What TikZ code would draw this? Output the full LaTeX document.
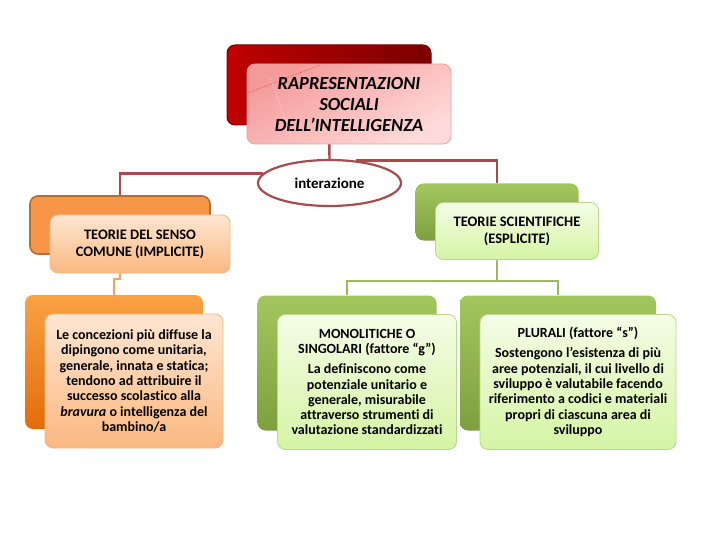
\documentclass[tikz,border=0pt]{standalone}
\usepackage{fontspec}
\setmainfont{Carlito}[Ligatures=NoCommon]
\usetikzlibrary{positioning, shapes.geometric}

\definecolor{topdark}{HTML}{C00000}
\definecolor{topdeep}{HTML}{7A0000}
\definecolor{pinktop}{HTML}{F49A9A}
\definecolor{pinkbot}{HTML}{FFDADA}
\definecolor{pinkline}{HTML}{E9A3A3}
\definecolor{linkred}{HTML}{A64C4E}
\definecolor{orangeback}{HTML}{F79646}
\definecolor{orangeedge}{HTML}{B66D31}
\definecolor{orangetop}{HTML}{F9A244}
\definecolor{orangebot}{HTML}{E36C0A}
\definecolor{peachtop}{HTML}{FEE6D2}
\definecolor{peachbot}{HTML}{FAB880}
\definecolor{peachline}{HTML}{F2B788}
\definecolor{linkorange}{HTML}{F3A35C}
\definecolor{greentop}{HTML}{A4C65E}
\definecolor{greenbot}{HTML}{7E9F3F}
\definecolor{limetop}{HTML}{F4FDE6}
\definecolor{limebot}{HTML}{D5F4A4}
\definecolor{limeline}{HTML}{B7D98C}
\definecolor{linkgreen}{HTML}{9BBB59}

\begin{document}
\begin{tikzpicture}[
    x=1pt, y=-1pt,
    back/.style={rectangle, rounded corners=8pt, inner sep=0pt, line width=1pt},
    front/.style={rectangle, draw, rounded corners=8pt, line width=0.8pt, align=center, inner sep=1pt},
    titlefont/.style={font=\fontsize{18.5}{21}\selectfont\bfseries\itshape},
    headfont/.style={font=\fontsize{14.5}{17}\selectfont\bfseries},
    bodyfont/.style={font=\fontsize{14}{15.3}\selectfont\bfseries},
    link/.style={line width=2.4pt}
]
\fill[white] (0,0) rectangle (720,540);
\useasboundingbox (0,0) rectangle (720,540);

% ============ BACK BOXES ============
\node[back, left color=topdark, right color=topdeep, draw=topdeep, minimum width=204pt, minimum height=80pt] (topback) at (329,85) {};
\node[back, fill=orangeback, draw=orangeedge, line width=1.6pt, minimum width=180pt, minimum height=58pt] (sensoback) at (120,225) {};
\node[back, top color=greentop, bottom color=greenbot, minimum width=163pt, minimum height=57pt] (scientback) at (497,212) {};
\node[back, top color=orangetop, bottom color=orangebot, minimum width=178pt, minimum height=134pt] (concezback) at (114,362) {};
\node[back, top color=greentop, bottom color=greenbot, minimum width=179pt, minimum height=135pt] (monoback) at (347,363) {};
\node[back, top color=greentop, bottom color=greenbot, minimum width=196pt, minimum height=135pt] (plurback) at (558,363) {};

% ============ CONNECTIONS ============
\node[ellipse, draw=linkred, line width=2.2pt, fill=white, minimum width=143pt, minimum height=46pt, inner sep=0pt, font=\fontsize{15}{17}\selectfont\bfseries] (inter) at (329.5,183) {interazione};
\draw[link, linkred] (topback.south) -- (inter.north);
\draw[link, linkred] (inter.172) -| (sensoback.north);
\draw[link, linkred] (inter.40) -| (scientback.north);

\draw[link, linkorange, line width=2pt] (sensoback.south) -- ++(0,24) -| (concezback.north);

\draw[link, linkgreen] (scientback.south) -- ++(0,40) -| (monoback.north);
\draw[link, linkgreen] (scientback.south) -- ++(0,40) -| (plurback.north);

% ============ FRONT BOXES ============
\node[front, titlefont, top color=pinktop, bottom color=pinkbot, shading angle=30, draw=pinkline, minimum width=204pt, minimum height=80pt] (topfront) at ([shift={(20,19)}]topback.center) {
    RAPRESENTAZIONI\\
    SOCIALI\\
    DELL’INTELLIGENZA
};
\draw[densely dotted, topdark, thin] (248,93) -- (320,65);
\draw[densely dotted, white, thin] (270,78) -- (292,137);

\node[front, headfont, top color=peachtop, bottom color=peachbot, draw=peachline, minimum width=180pt, minimum height=58pt] (sensofront) at ([shift={(20,19)}]sensoback.center) {
    TEORIE DEL SENSO\\
    COMUNE (IMPLICITE)
};

\node[front, headfont, top color=limetop, bottom color=limebot, draw=limeline, minimum width=163pt, minimum height=57pt] (scientfront) at ([shift={(20,19)}]scientback.center) {
    TEORIE SCIENTIFICHE\\
    (ESPLICITE)
};

\node[front, bodyfont, top color=peachtop, bottom color=peachbot, draw=peachline, minimum width=178pt, minimum height=134pt] (concezfront) at ([shift={(20,19)}]concezback.center) {
    Le concezioni più diffuse la\\
    dipingono come unitaria,\\
    generale, innata e statica;\\
    tendono ad attribuire il\\
    successo scolastico alla\\
    \textit{bravura} o intelligenza del\\
    bambino/a
};

\node[front, bodyfont, top color=limetop, bottom color=limebot, draw=limeline, minimum width=179pt, minimum height=135pt] (monofront) at ([shift={(20,19)}]monoback.center) {
    MONOLITICHE O\\
    SINGOLARI (fattore “g”)\\[5pt]
    La definiscono come\\
    potenziale unitario e\\
    generale, misurabile\\
    attraverso strumenti di\\
    valutazione standardizzati
};

\node[front, bodyfont, top color=limetop, bottom color=limebot, draw=limeline, minimum width=196pt, minimum height=135pt] (plurfront) at ([shift={(20,19)}]plurback.center) {
    PLURALI (fattore “s”)\\[5pt]
    Sostengono l’esistenza di più\\
    aree potenziali, il cui livello di\\
    sviluppo è valutabile facendo\\
    riferimento a codici e materiali\\
    propri di ciascuna area di\\
    sviluppo
};

\end{tikzpicture}
\end{document}
